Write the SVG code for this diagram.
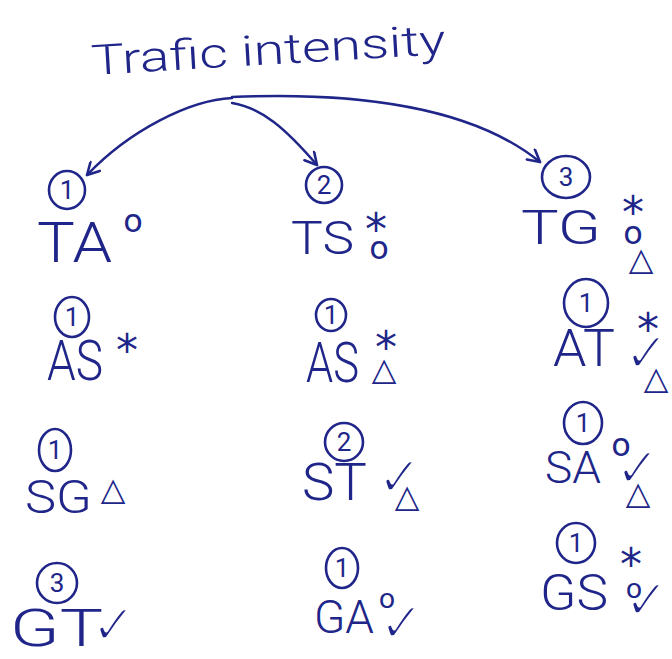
<svg xmlns="http://www.w3.org/2000/svg" width="672" height="659" viewBox="0 0 672 659">
  <style>
    .lbl { font-family: Roboto, "Liberation Sans", sans-serif; font-weight: 300; fill: #202689; }
    .num { font-family: Roboto, "Liberation Sans", sans-serif; font-weight: 400; font-size: 26px; fill: #202689; text-anchor: middle; }
    .ring { fill: none; stroke: #202689; stroke-width: 2.6; }
    .mk { font-family: "DejaVu Sans", sans-serif; fill: #202689; text-anchor: middle; }
    .star { font-size: 44px; }
    .o { font-size: 32px; }
    .os { font-size: 27px; }
    .chk { font-size: 56px; stroke: #ffffff; stroke-width: 2.8px; }
    .tri { font-size: 32px; }
    .wire { fill: none; stroke: #202689; stroke-width: 2.4; stroke-linecap: round; }
  </style>
  <defs>
    <marker id="ah" viewBox="0 0 14 14" refX="12.5" refY="7" markerWidth="15" markerHeight="15" markerUnits="userSpaceOnUse" orient="auto">
      <path d="M1.5,1 L12.5,7 L1.5,13" fill="none" stroke="#202689" stroke-width="2.4" stroke-linecap="round" stroke-linejoin="round"/>
    </marker>
  </defs>

  <rect width="672" height="659" fill="#ffffff"/>

  <!-- heading -->
  <g id="title">
    <text class="lbl" x="92" y="75" font-size="42" textLength="355" lengthAdjust="spacingAndGlyphs" transform="rotate(-3.4 92 75)">Trafic intensity</text>
  </g>

  <!-- branches from the heading to the three first-level items -->
  <g id="connectors">
    <path class="wire" d="M232,98 C190,100 130,130 87,175" marker-end="url(#ah)"/>
    <path class="wire" d="M232,103 C262,108 285,128 317,165" marker-end="url(#ah)"/>
    <path class="wire" d="M232,97 C350,92 470,105 540,162" marker-end="url(#ah)"/>
  </g>

  <!-- column 1 -->
  <g id="node-TA">
    <ellipse class="ring" cx="67" cy="190" rx="18" ry="19"/>
    <text class="num" x="67" y="199">1</text>
    <text class="lbl" x="37" y="262" font-size="56" textLength="75" lengthAdjust="spacingAndGlyphs">TA</text>
    <text class="mk o" x="133" y="232">o</text>
  </g>
  <g id="node-AS-1">
    <ellipse class="ring" cx="72" cy="317" rx="17" ry="20"/>
    <text class="num" x="72" y="326">1</text>
    <text class="lbl" x="47" y="380" font-size="56" textLength="56" lengthAdjust="spacingAndGlyphs">AS</text>
    <text class="mk star" x="127" y="366">*</text>
  </g>
  <g id="node-SG">
    <ellipse class="ring" cx="55" cy="450" rx="16" ry="21"/>
    <text class="num" x="55" y="459">1</text>
    <text class="lbl" x="25" y="513" font-size="46" textLength="67" lengthAdjust="spacingAndGlyphs">SG</text>
    <text class="mk tri" x="113" y="500">△</text>
  </g>
  <g id="node-GT">
    <ellipse class="ring" cx="57" cy="583" rx="20" ry="20"/>
    <text class="num" x="57" y="592">3</text>
    <text class="lbl" x="10" y="646" font-size="52" textLength="93" lengthAdjust="spacingAndGlyphs">GT</text>
    <text class="mk chk" x="114" y="644">✓</text>
  </g>

  <!-- column 2 -->
  <g id="node-TS">
    <ellipse class="ring" cx="324" cy="185" rx="18" ry="18"/>
    <text class="num" x="324" y="194">2</text>
    <text class="lbl" x="291" y="254" font-size="46" textLength="63" lengthAdjust="spacingAndGlyphs">TS</text>
    <text class="mk"><tspan class="star" x="376" y="245">*</tspan><tspan class="o" x="379" y="259">o</tspan></text>
  </g>
  <g id="node-AS-2">
    <ellipse class="ring" cx="331" cy="315" rx="15" ry="16"/>
    <text class="num" x="331" y="324">1</text>
    <text class="lbl" x="306" y="382" font-size="56" textLength="53" lengthAdjust="spacingAndGlyphs">AS</text>
    <text class="mk"><tspan class="star" x="386" y="363">*</tspan><tspan class="tri" x="384" y="380">△</tspan></text>
  </g>
  <g id="node-ST">
    <ellipse class="ring" cx="344" cy="442" rx="19" ry="19"/>
    <text class="num" x="344" y="451">2</text>
    <text class="lbl" x="302" y="500" font-size="52" textLength="65" lengthAdjust="spacingAndGlyphs">ST</text>
    <text class="mk"><tspan class="chk" x="400" y="496">✓</tspan><tspan class="tri" x="407" y="507">△</tspan></text>
  </g>
  <g id="node-GA">
    <ellipse class="ring" cx="342" cy="568" rx="16" ry="20"/>
    <text class="num" x="342" y="577">1</text>
    <text class="lbl" x="314" y="633" font-size="46" textLength="60" lengthAdjust="spacingAndGlyphs">GA</text>
    <text class="mk"><tspan class="os" x="387" y="608">o</tspan><tspan class="chk" x="402" y="642">✓</tspan></text>
  </g>

  <!-- column 3 -->
  <g id="node-TG">
    <ellipse class="ring" cx="566" cy="177" rx="24" ry="21"/>
    <text class="num" x="566" y="186">3</text>
    <text class="lbl" x="521" y="244" font-size="48" textLength="80" lengthAdjust="spacingAndGlyphs">TG</text>
    <text class="mk"><tspan class="star" x="633" y="228">*</tspan><tspan class="o" x="633" y="244">o</tspan><tspan class="tri" x="641" y="270">△</tspan></text>
  </g>
  <g id="node-AT">
    <ellipse class="ring" cx="586" cy="303" rx="22" ry="24"/>
    <text class="num" x="586" y="312">1</text>
    <text class="lbl" x="553" y="366" font-size="52" textLength="62" lengthAdjust="spacingAndGlyphs">AT</text>
    <text class="mk"><tspan class="star" x="648" y="345">*</tspan><tspan class="chk" x="647" y="372">✓</tspan><tspan class="tri" x="656" y="389">△</tspan></text>
  </g>
  <g id="node-SA">
    <ellipse class="ring" cx="583" cy="423" rx="19" ry="21"/>
    <text class="num" x="583" y="432">1</text>
    <text class="lbl" x="545" y="483" font-size="44" textLength="56" lengthAdjust="spacingAndGlyphs">SA</text>
    <text class="mk"><tspan class="o" x="621" y="456">o</tspan><tspan class="chk" x="638" y="487">✓</tspan><tspan class="tri" x="638" y="504">△</tspan></text>
  </g>
  <g id="node-GS">
    <ellipse class="ring" cx="576" cy="543" rx="19" ry="20"/>
    <text class="num" x="576" y="552">1</text>
    <text class="lbl" x="540" y="610" font-size="50" textLength="68" lengthAdjust="spacingAndGlyphs">GS</text>
    <text class="mk"><tspan class="star" x="631" y="580">*</tspan><tspan class="os" x="634" y="598">o</tspan><tspan class="chk" x="647" y="619">✓</tspan></text>
  </g>
</svg>
